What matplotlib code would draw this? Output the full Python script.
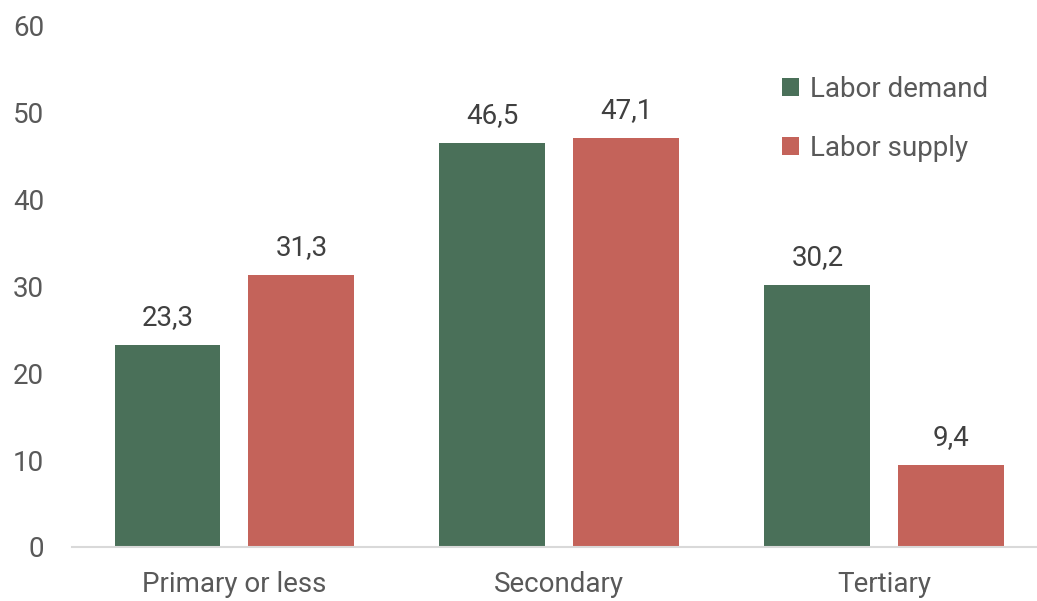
import numpy as np
import matplotlib
matplotlib.use("Agg")
from matplotlib import pyplot as plt

# data
categories = ["Primary or less", "Secondary", "Tertiary"]
labor_demand = [23.3, 46.5, 30.2]
labor_supply = [31.3, 47.1, 9.4]
series_names = ["Labor demand", "Labor supply"]

green = "#4a7059"
red = "#c4635a"

plt.rcParams['font.family'] = ['Roboto', 'DejaVu Sans']

fig = plt.figure(figsize=(10.37, 6.01), dpi=100)
ax = fig.add_axes([0.0694, 0.0899, 0.9306, 0.867])

x = np.arange(len(categories))
w = 0.326
off = 0.206
b1 = ax.bar(x - off, labor_demand, w, color=green, label=series_names[0])
b2 = ax.bar(x + off, labor_supply, w, color=red, label=series_names[1])

# value labels, comma as decimal sign
for bars, vals in [(b1, labor_demand), (b2, labor_supply)]:
    for rect, v in zip(bars, vals):
        ax.annotate(f"{v:.1f}".replace(".", ","),
                    (rect.get_x() + rect.get_width() / 2, rect.get_height()),
                    xytext=(0, 10), textcoords="offset points",
                    ha="center", va="bottom", fontsize=20, color="#404040")

ax.set_xlim(-0.5, 2.47)
ax.set_ylim(0, 60)
ax.set_yticks(range(0, 61, 10))
ax.set_xticks(x)
ax.set_xticklabels(categories)
ax.tick_params(axis="both", length=0, labelsize=20, labelcolor="#595959")
ax.tick_params(axis="y", pad=20)
ax.tick_params(axis="x", pad=17)

for s in ["top", "right", "left"]:
    ax.spines[s].set_visible(False)
ax.spines["bottom"].set_color("#d9d9d9")
ax.spines["bottom"].set_linewidth(1.5)

leg = ax.legend(loc="upper left", bbox_to_anchor=(0.71, 0.952), frameon=False,
                fontsize=20, handlelength=0.6, handleheight=0.6,
                handletextpad=0.4, labelspacing=1.15)
for t in leg.get_texts():
    t.set_color("#595959")

fig.savefig("out.png", dpi=100)
